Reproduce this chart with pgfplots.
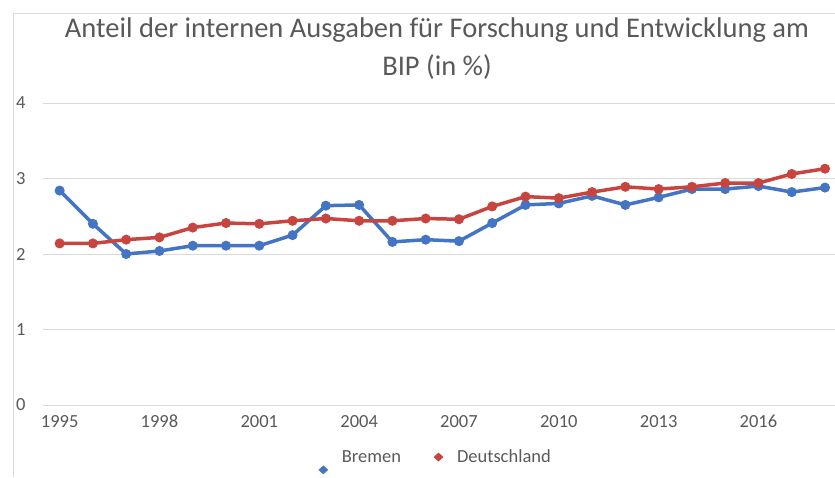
\documentclass[border=0pt]{standalone}
\usepackage{fontspec}
\setmainfont{Carlito}
\usepackage{pgfplots}
\pgfplotsset{compat=1.18}
\definecolor{bremen}{RGB}{68,116,196}
\definecolor{de}{RGB}{200,68,62}
\definecolor{txt}{RGB}{89,89,89}
\definecolor{grd}{RGB}{217,217,217}
\begin{document}
\begin{tikzpicture}[x=1pt,y=1pt]
\path[use as bounding box] (0pt,0pt) rectangle (835pt,477pt);
\draw[grd, line width=1pt] (13pt,0pt) -- (13pt,463pt) -- (835pt,463pt);
\node[font=\fontsize{28.5}{38}\selectfont, text=txt, align=center] at (437pt,428pt) {Anteil der internen Ausgaben für Forschung und Entwicklung am\\BIP (in \%)};
\begin{axis}[
  at={(43pt,72pt)}, anchor=south west, scale only axis,
  width=792pt, height=302pt,
  xmin=-0.5, xmax=23.3, ymin=0, ymax=4,
  axis line style={draw=none},
  ymajorgrids, grid style={grd, line width=1pt},
  ytick={0,1,2,3,4},
  xtick={0,3,6,9,12,15,18,21},
  xticklabels={1995,1998,2001,2004,2007,2010,2013,2016},
  major tick length=0pt,
  tick label style={font=\fontsize{18.5}{20}\selectfont, text=txt},
  yticklabel style={xshift=-14pt},
  xticklabel style={anchor=base, yshift=-22pt},
  /pgf/number format/assume math mode=true,
  legend style={at={(0.496,-0.185)}, anchor=center, draw=none, fill=none, font=\fontsize{18.5}{20}\selectfont, text=txt, legend columns=2,
    /tikz/every odd column/.append style={column sep=12pt},
    /tikz/every even column/.append style={column sep=31pt}},
]
\addplot[bremen, line width=3.5pt, mark=*, mark size=4.5pt, mark options={line width=1pt},
  legend image code/.code={\draw[bremen, mark=diamond*, mark size=4pt, mark options={xscale=1.5}, line width=0.5pt] plot coordinates {(0.2cm,-0.45cm)};}] coordinates {
(0,2.84) (1,2.40) (2,2.00) (3,2.04) (4,2.11) (5,2.11) (6,2.11) (7,2.25) (8,2.64) (9,2.65) (10,2.16) (11,2.19) (12,2.17) (13,2.41) (14,2.65) (15,2.67) (16,2.77) (17,2.65) (18,2.75) (19,2.86) (20,2.86) (21,2.90) (22,2.82) (23,2.88)};
\addlegendentry{Bremen}
\addplot[de, line width=3.5pt, mark=*, mark size=4.5pt, mark options={line width=1pt},
  legend image code/.code={\draw[de, mark=diamond*, mark size=4pt, mark options={xscale=1.5}, line width=0.5pt] plot coordinates {(0.2cm,0cm)};}] coordinates {
(0,2.14) (1,2.14) (2,2.19) (3,2.22) (4,2.35) (5,2.41) (6,2.40) (7,2.44) (8,2.47) (9,2.44) (10,2.44) (11,2.47) (12,2.46) (13,2.63) (14,2.76) (15,2.74) (16,2.82) (17,2.89) (18,2.86) (19,2.89) (20,2.94) (21,2.94) (22,3.06) (23,3.13)};
\addlegendentry{Deutschland}
\end{axis}
\end{tikzpicture}
\end{document}
